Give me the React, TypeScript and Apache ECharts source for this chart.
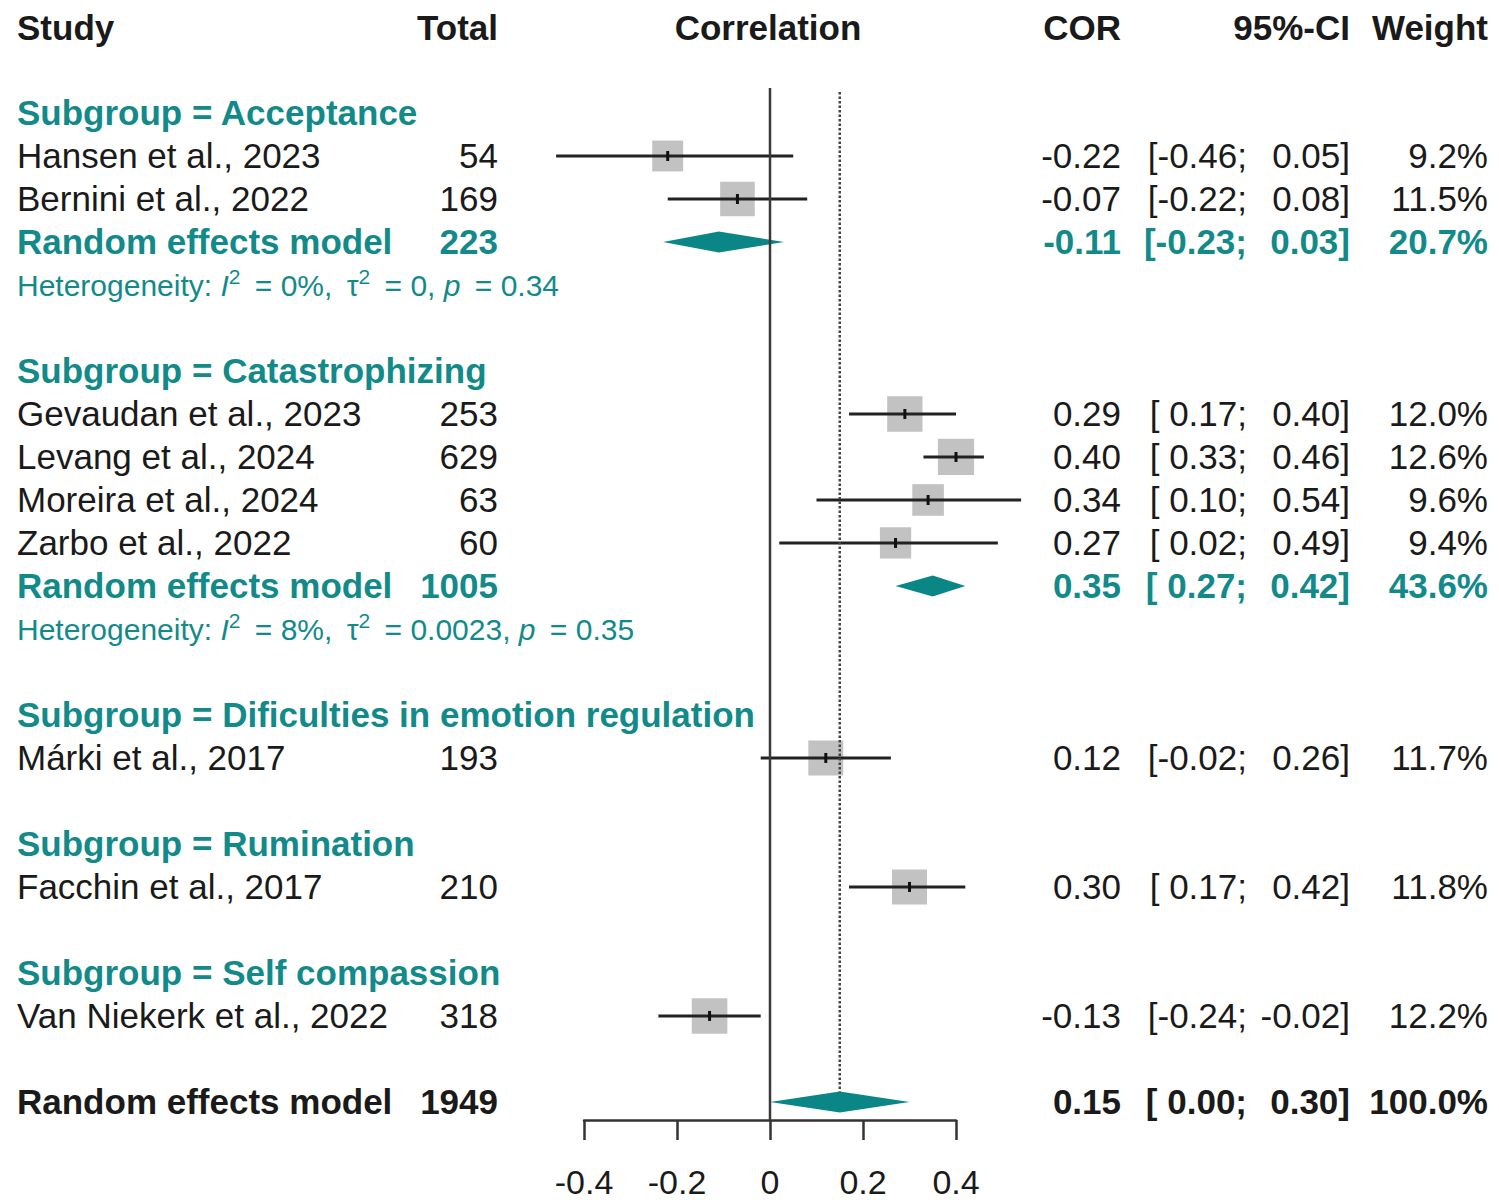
import React, { useEffect, useRef } from "react";
import * as echarts from "echarts";

// ---------------- DATA ----------------
const subgroupNames = [
  "Acceptance",
  "Catastrophizing",
  "Dificulties in emotion regulation",
  "Rumination",
  "Self compassion",
];

const studyNames = [
  "Hansen et al., 2023",
  "Bernini et al., 2022",
  "Gevaudan et al., 2023",
  "Levang et al., 2024",
  "Moreira et al., 2024",
  "Zarbo et al., 2022",
  "Márki et al., 2017",
  "Facchin et al., 2017",
  "Van Niekerk et al., 2022",
];
const studyGroup = [0, 0, 1, 1, 1, 1, 2, 3, 4];
const studyTotal = [54, 169, 253, 629, 63, 60, 193, 210, 318];
const studyCor = [-0.22, -0.07, 0.29, 0.4, 0.34, 0.27, 0.12, 0.3, -0.13];
const studyLower = [-0.46, -0.22, 0.17, 0.33, 0.1, 0.02, -0.02, 0.17, -0.24];
const studyUpper = [0.05, 0.08, 0.4, 0.46, 0.54, 0.49, 0.26, 0.42, -0.02];
const studyWeight = [9.2, 11.5, 12.0, 12.6, 9.6, 9.4, 11.7, 11.8, 12.2];

// subgroup random effects models (null = single-study subgroup)
const subTotal = [223, 1005, null, null, null];
const subCor = [-0.11, 0.35, null, null, null];
const subLower = [-0.23, 0.27, null, null, null];
const subUpper = [0.03, 0.42, null, null, null];
const subWeight = [20.7, 43.6, null, null, null];
const hetI2 = ["0", "8", null, null, null];
const hetTau2 = ["0", "0.0023", null, null, null];
const hetP = ["0.34", "0.35", null, null, null];

const overallTotal = 1949;
const overallCor = 0.15;
const overallLower = 0.0;
const overallUpper = 0.3;
const overallWeight = 100.0;

const headerLabels = ["Study", "Total", "Correlation", "COR", "95%-CI", "Weight"];
const xTicks = [-0.4, -0.2, 0, 0.2, 0.4];

// ---------------- STYLE / LAYOUT ----------------
const FONT = "'Liberation Sans', Arial, Helvetica, sans-serif";
const BLACK = "#1a1a1a";
const TEAL = "#138a8a";
const DIAMOND = "#0b8686";
const SQ_COLOR = "#c2c2c2";
const LINE_COLOR = "#222";
const FS = 35;
const HET_FS = 30;

const W = 1499;
const H = 1202;
const COL = {
  study: 17,
  total: 498,
  corr: 768,
  cor: 1121,
  ciLow: 1247,
  ciUp: 1350,
  weight: 1488,
};
const GRID = { left: 584, right: W - 956, top: 27, bottom: H - 1120 };
const ROW_MAX = 25.42;
const SQ_K = 10.2;
const DIAMOND_HALF = 10.5;
// plotmath-like spacing
const NB = "\u00A0";
const TH = "\u2009";
const EQ_AFTER_SUP = NB + TH + "=" + NB;
const EQ = NB + TH + "=" + NB;

type Cell = {
  row: number;
  text: string;
  x: number;
  align: "left" | "right" | "center";
  bold?: boolean;
  color: string;
  size: number;
  rich?: any;
};

function f2(v: number) {
  return v.toFixed(2);
}
function ciLowText(v: number) {
  return "[" + (v < 0 ? f2(v) : NB + f2(v)) + ";";
}
function ciUpText(v: number) {
  return f2(v) + "]";
}

function buildOption() {
  const cells: Cell[] = [];
  const studyMarks: number[][] = [];
  const diamondMarks: number[][] = [];
  const add = (
    row: number,
    text: string,
    x: number,
    align: "left" | "right" | "center",
    bold: boolean,
    color: string,
    size = FS,
    rich?: any
  ) => cells.push({ row, text, x, align, bold, color, size, rich });

  const addNumbers = (
    row: number,
    total: number,
    cor: number,
    lo: number,
    up: number,
    w: number,
    bold: boolean,
    color: string
  ) => {
    add(row, String(total), COL.total, "right", bold, color);
    add(row, f2(cor), COL.cor, "right", bold, color);
    add(row, ciLowText(lo), COL.ciLow, "right", bold, color);
    add(row, ciUpText(up), COL.ciUp, "right", bold, color);
    add(row, w.toFixed(1) + "%", COL.weight, "right", bold, color);
  };

  // header
  add(0, headerLabels[0], COL.study, "left", true, BLACK);
  add(0, headerLabels[1], COL.total, "right", true, BLACK);
  add(0, headerLabels[2], COL.corr, "center", true, BLACK);
  add(0, headerLabels[3], COL.cor, "right", true, BLACK);
  add(0, headerLabels[4], COL.ciUp, "right", true, BLACK);
  add(0, headerLabels[5], COL.weight, "right", true, BLACK);

  const hetRich = {
    n: { fontSize: HET_FS, fill: TEAL, fontFamily: FONT, lineHeight: 40 },
    i: { fontSize: HET_FS, fill: TEAL, fontFamily: FONT, fontStyle: "italic", lineHeight: 40 },
    s: { fontSize: 21, fill: TEAL, fontFamily: FONT, verticalAlign: "top", lineHeight: 21 },
  };

  let row = 2;
  subgroupNames.forEach((g, gi) => {
    add(row, `Subgroup = ${g}`, COL.study, "left", true, TEAL);
    row++;
    studyNames.forEach((name, si) => {
      if (studyGroup[si] !== gi) return;
      add(row, name, COL.study, "left", false, BLACK);
      addNumbers(row, studyTotal[si], studyCor[si], studyLower[si], studyUpper[si], studyWeight[si], false, BLACK);
      studyMarks.push([studyCor[si], row, studyLower[si], studyUpper[si], studyWeight[si]]);
      row++;
    });
    if (subTotal[gi] != null) {
      add(row, "Random effects model", COL.study, "left", true, TEAL);
      addNumbers(row, subTotal[gi] as number, subCor[gi] as number, subLower[gi] as number, subUpper[gi] as number, subWeight[gi] as number, true, TEAL);
      diamondMarks.push([subCor[gi] as number, row, subLower[gi] as number, subUpper[gi] as number]);
      row++;
      const txt =
        `{n|Heterogeneity: }{i|I}{s|2}{n|${EQ_AFTER_SUP}${hetI2[gi]}%,${NB}${TH}τ}{s|2}` +
        `{n|${EQ_AFTER_SUP}${hetTau2[gi]},${NB}}{i|p}{n|${EQ}${hetP[gi]}}`;
      add(row + 0.02, txt, COL.study, "left", false, TEAL, HET_FS, hetRich);
      row++;
    }
    row++;
  });
  add(row, "Random effects model", COL.study, "left", true, BLACK);
  addNumbers(row, overallTotal, overallCor, overallLower, overallUpper, overallWeight, true, BLACK);
  diamondMarks.push([overallCor, row, overallLower, overallUpper]);
  const overallRow = row;

  const refLines = [
    [0, 1.42, ROW_MAX, 0],
    [overallCor, 1.51, overallRow - DIAMOND_HALF / 43, 1],
  ];

  return {
    animation: false,
    backgroundColor: "#ffffff",
    grid: { ...GRID, containLabel: false },
    xAxis: {
      type: "value",
      min: xTicks[0],
      max: xTicks[xTicks.length - 1],
      interval: 0.2,
      axisLine: { show: true, onZero: false, lineStyle: { color: "#333", width: 2.5 } },
      axisTick: { show: true, length: 20, lineStyle: { color: "#333", width: 2.5 } },
      axisLabel: {
        show: true,
        margin: 45,
        fontSize: 34,
        lineHeight: 34,
        color: BLACK,
        fontFamily: FONT,
        formatter: (v: number) => (Math.abs(v) < 1e-9 ? "0" : v.toFixed(1)),
      },
      splitLine: { show: false },
    },
    yAxis: {
      type: "value",
      min: 0,
      max: ROW_MAX,
      inverse: true,
      show: false,
      axisLine: { onZero: false },
      splitLine: { show: false },
    },
    series: [
      {
        type: "custom",
        coordinateSystem: "cartesian2d",
        clip: false,
        z: 2,
        data: studyMarks,
        encode: { x: 0, y: 1 },
        renderItem: (params: any, api: any) => {
          const r = api.value(1);
          const c = api.coord([api.value(0), r]);
          const l = api.coord([api.value(2), r]);
          const u = api.coord([api.value(3), r]);
          const s = SQ_K * Math.sqrt(api.value(4));
          return {
            type: "group",
            children: [
              { type: "rect", shape: { x: c[0] - s / 2, y: c[1] - s / 2, width: s, height: s }, style: { fill: SQ_COLOR } },
              { type: "line", shape: { x1: l[0], y1: l[1], x2: u[0], y2: u[1] }, style: { stroke: LINE_COLOR, lineWidth: 3 } },
              { type: "rect", shape: { x: c[0] - 1.5, y: c[1] - 5, width: 3, height: 10 }, style: { fill: "#111" } },
            ],
          };
        },
      },
      {
        type: "custom",
        coordinateSystem: "cartesian2d",
        clip: false,
        z: 2,
        data: diamondMarks,
        encode: { x: 0, y: 1 },
        renderItem: (params: any, api: any) => {
          const r = api.value(1);
          const c = api.coord([api.value(0), r]);
          const l = api.coord([api.value(2), r]);
          const u = api.coord([api.value(3), r]);
          return {
            type: "polygon",
            shape: {
              points: [
                [l[0], c[1]],
                [c[0], c[1] - DIAMOND_HALF],
                [u[0], c[1]],
                [c[0], c[1] + DIAMOND_HALF],
              ],
            },
            style: { fill: DIAMOND },
          };
        },
      },
      {
        type: "custom",
        coordinateSystem: "cartesian2d",
        clip: false,
        z: 3,
        data: refLines,
        encode: { x: 0, y: 1 },
        renderItem: (params: any, api: any) => {
          const a = api.coord([api.value(0), api.value(1)]);
          const b = api.coord([api.value(0), api.value(2)]);
          const dotted = api.value(3) === 1;
          return {
            type: "line",
            shape: { x1: a[0], y1: a[1], x2: b[0], y2: b[1] },
            style: dotted
              ? { stroke: "#444", lineWidth: 2.5, lineDash: [2.5, 2] }
              : { stroke: "#3a3a3a", lineWidth: 2.5 },
          };
        },
      },
      {
        type: "custom",
        coordinateSystem: "cartesian2d",
        clip: false,
        z: 4,
        data: cells.map((c, i) => [0, c.row, i]),
        encode: { x: 0, y: 1 },
        renderItem: (params: any, api: any) => {
          const c = cells[params.dataIndex];
          const y = api.coord([0, c.row])[1];
          return {
            type: "text",
            x: c.x,
            y,
            style: {
              text: c.text,
              x: 0,
              y: 0,
              align: c.align,
              verticalAlign: "middle",
              fontSize: c.size,
              fontWeight: c.bold ? "bold" : "normal",
              fontFamily: FONT,
              fill: c.color,
              rich: c.rich,
            },
          };
        },
      },
    ],
  };
}

export default function App() {
  const ref = useRef<HTMLDivElement>(null);
  useEffect(() => {
    const chart = echarts.init(ref.current as HTMLDivElement, null, { renderer: "svg" });
    chart.setOption(buildOption() as any);
    return () => chart.dispose();
  }, []);
  return (
    <div
      ref={ref}
      style={{ position: "fixed", left: 0, top: 0, width: W, height: H, background: "#fff" }}
    />
  );
}
